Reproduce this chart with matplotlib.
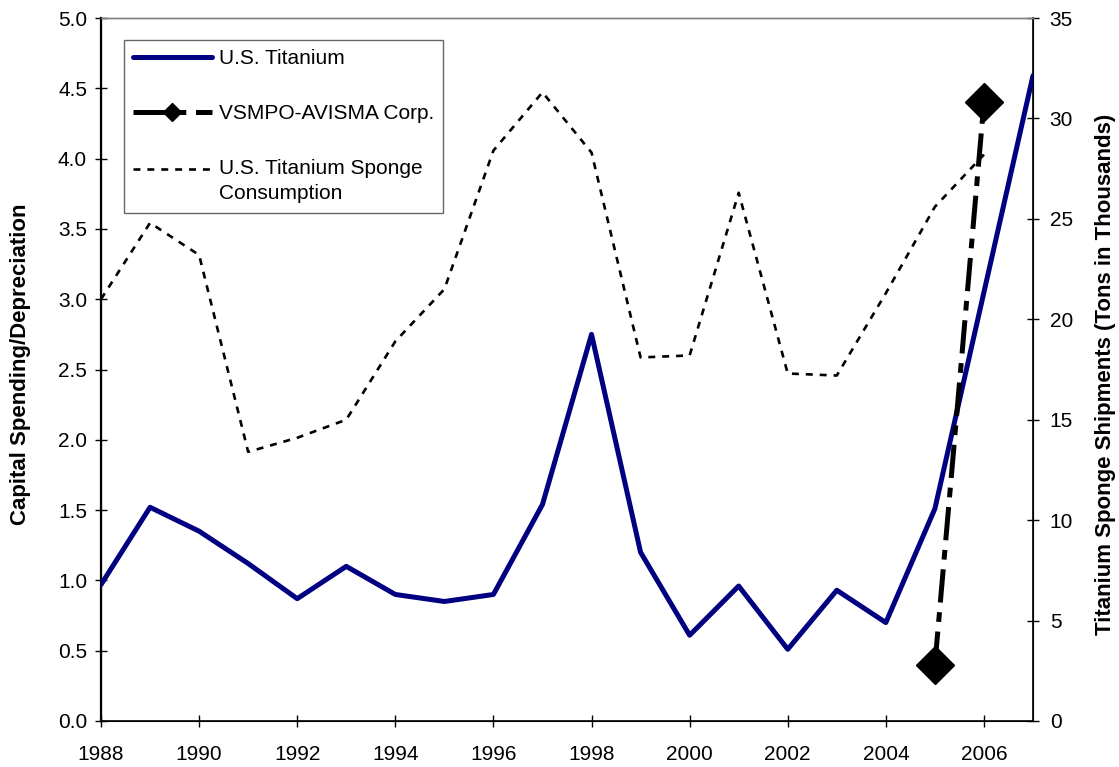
import matplotlib
matplotlib.use("Agg")
import numpy as np
import matplotlib.pyplot as plt
from matplotlib.lines import Line2D
from matplotlib.legend_handler import HandlerLine2D

plt.rcParams['font.family'] = ['Liberation Sans', 'DejaVu Sans']
plt.rcParams['lines.scale_dashes'] = False

# ---- data ----
years = [1988, 1989, 1990, 1991, 1992, 1993, 1994, 1995, 1996, 1997,
         1998, 1999, 2000, 2001, 2002, 2003, 2004, 2005, 2006, 2007]
us_titanium = [0.97, 1.52, 1.35, 1.12, 0.87, 1.10, 0.90, 0.85, 0.90, 1.54,
               2.75, 1.20, 0.61, 0.96, 0.51, 0.93, 0.70, 1.51, 3.05, 4.59]
vsmpo_years = [2005, 2006]
vsmpo = [0.40, 4.40]
sponge_years = [1988, 1989, 1990, 1991, 1992, 1993, 1994, 1995, 1996, 1997,
                1998, 1999, 2000, 2001, 2002, 2003, 2004, 2005, 2006]
sponge = [21.0, 24.8, 23.2, 13.4, 14.1, 15.0, 18.9, 21.5, 28.4, 31.3,
          28.3, 18.1, 18.2, 26.3, 17.3, 17.2, 21.3, 25.6, 28.2]

left_ticks = [0.0, 0.5, 1.0, 1.5, 2.0, 2.5, 3.0, 3.5, 4.0, 4.5, 5.0]
right_ticks = [0, 5, 10, 15, 20, 25, 30, 35]
x_ticks = [1988, 1990, 1992, 1994, 1996, 1998, 2000, 2002, 2004, 2006]

labels = ["U.S. Titanium", "VSMPO-AVISMA Corp.", "U.S. Titanium Sponge\nConsumption"]
left_label = "Capital Spending/Depreciation"
right_label = "Titanium Sponge Shipments (Tons in Thousands)"


class OffsetHandler(HandlerLine2D):
    def __init__(self, dy, **kw):
        super().__init__(**kw)
        self.dy = dy

    def create_artists(self, legend, orig_handle, xdescent, ydescent,
                       width, height, fontsize, trans):
        arts = super().create_artists(legend, orig_handle, xdescent, ydescent,
                                      width, height, fontsize, trans)
        for a in arts:
            a.set_ydata(np.asarray(a.get_ydata(), dtype=float) + self.dy)
        return arts


# ---- figure ----
fig = plt.figure(figsize=(11.19, 7.67), dpi=100)
ax = fig.add_axes([101/1119, 46/767, 932/1119, 703/767])
ax2 = ax.twinx()

navy = '#000080'
dashdot = (0, (24, 7, 7, 7))
dotted = (0, (5, 5))

ax.plot(years, us_titanium, color=navy, lw=3.6, solid_joinstyle='round',
        solid_capstyle='round', zorder=3)
ax.plot(vsmpo_years, vsmpo, color='black', lw=3.6, linestyle=dashdot,
        marker='D', markersize=19, zorder=4)
ax2.plot(sponge_years, sponge, color='black', lw=1.9, linestyle=dotted, zorder=2)

ax.set_zorder(ax2.get_zorder() + 1)
ax.patch.set_visible(False)

ax.set_xlim(1988, 2007)
ax.set_ylim(0, 5)
ax2.set_ylim(0, 35)
ax.set_xticks(x_ticks)
ax.set_xticklabels([str(x) for x in x_ticks])
ax.set_yticks(left_ticks)
ax.set_yticklabels([f"{v:.1f}" for v in left_ticks])
ax2.set_yticks(right_ticks)
ax2.set_yticklabels([str(v) for v in right_ticks])

for a in (ax, ax2):
    a.tick_params(direction='inout', length=8, width=1, labelsize=15, colors='black')
ax.tick_params(axis='y', pad=6)
ax.tick_params(axis='x', pad=13)
ax2.tick_params(axis='y', pad=8)

for a in (ax, ax2):
    a.spines['top'].set_color('#808080')
    a.spines['top'].set_linewidth(1)
ax.spines['left'].set_linewidth(1.6)
ax.spines['bottom'].set_linewidth(1.2)
ax2.spines['right'].set_linewidth(1.2)

ax.set_ylabel(left_label, fontsize=16, fontweight='bold')
ax.yaxis.set_label_coords(-0.075, 0.507)
ax2.set_ylabel(right_label, fontsize=16, fontweight='bold', rotation=90)
ax2.yaxis.set_label_coords(1.066, 0.493)

handles = [
    Line2D([], [], color=navy, lw=3.6, solid_capstyle='round'),
    Line2D([], [], color='black', lw=3.6, linestyle=dashdot, marker='D', markersize=9),
    Line2D([], [], color='black', lw=1.9, linestyle=dotted),
]
leg = ax.legend(handles, labels, loc='upper left', bbox_to_anchor=(0.0247, 0.969),
                fontsize=15, frameon=True, fancybox=False, handlelength=3.75,
                handletextpad=0.35, labelspacing=1.73, borderpad=0.45,
                borderaxespad=0, handler_map={handles[2]: OffsetHandler(9)})
for t in leg.get_texts():
    t.set_linespacing(1.4)
leg.get_frame().set_edgecolor('#404040')
leg.get_frame().set_linewidth(1)

fig.savefig('out.png', dpi=100)
